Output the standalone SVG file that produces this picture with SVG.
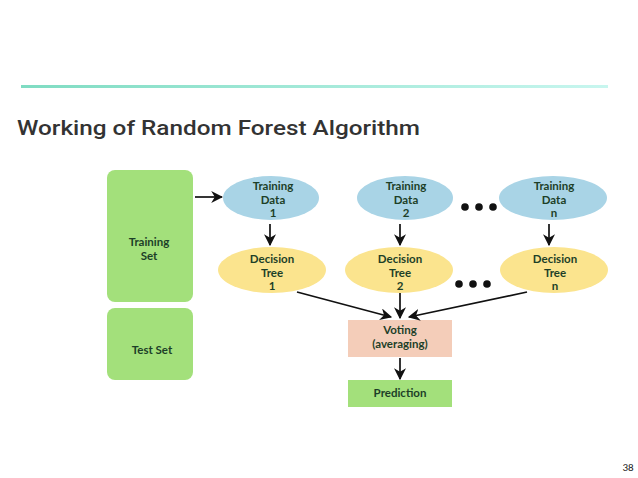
<svg xmlns="http://www.w3.org/2000/svg" width="638" height="478" viewBox="0 0 638 478">
<defs>
<linearGradient id="bar" x1="0" y1="0" x2="1" y2="0">
<stop offset="0" stop-color="#7fdcc2"/>
<stop offset="1" stop-color="#c8f6ef"/>
</linearGradient>
<marker id="ah" viewBox="0 0 10 10" refX="9" refY="5" markerWidth="12" markerHeight="12" markerUnits="userSpaceOnUse" orient="auto">
<path d="M0,0 L10,5 L0,10 L3,5 Z" fill="#111"/>
</marker>
<style>
.lbl{font-family:Lato,"Liberation Sans",sans-serif;font-size:11.5px;font-weight:bold;fill:#1d3f28;text-anchor:middle}
.green{fill:#a3e07b}
.blue{fill:#a9d4e6}
.yellow{fill:#fbe48e}
.conn{stroke:#111;stroke-width:1.7;fill:none;marker-end:url(#ah)}
.dot{fill:#111}
</style>
</defs>
<rect width="638" height="478" fill="#fff"/>
<rect x="21" y="85" width="587" height="3" fill="url(#bar)"/>
<text x="17" y="135" font-family="Roboto,'Liberation Sans',sans-serif" font-size="20" font-weight="500" fill="#333" textLength="403" lengthAdjust="spacingAndGlyphs">Working of Random Forest Algorithm</text>

<g id="training-set"><rect x="107" y="170" width="86" height="132" rx="8" class="green"/>
<text class="lbl" x="149" y="246">Training<tspan x="149" dy="14">Set</tspan></text></g>
<g id="test-set"><rect x="107" y="308" width="86" height="72" rx="8" class="green"/>
<text class="lbl" x="152" y="354">Test Set</text></g>

<g id="td1"><ellipse cx="271" cy="198" rx="48" ry="22" class="blue"/>
<text class="lbl" x="273" y="190">Training<tspan x="273" dy="13.5">Data</tspan><tspan x="273" dy="13.5">1</tspan></text></g>
<g id="td2"><ellipse cx="405" cy="198" rx="48" ry="22" class="blue"/>
<text class="lbl" x="406" y="190">Training<tspan x="406" dy="13.5">Data</tspan><tspan x="406" dy="13.5">2</tspan></text></g>
<g id="tdn"><ellipse cx="553" cy="198" rx="54" ry="22" class="blue"/>
<text class="lbl" x="554" y="190">Training<tspan x="554" dy="13.5">Data</tspan><tspan x="554" dy="13.5">n</tspan></text></g>

<g id="dt1"><ellipse cx="272" cy="270" rx="54" ry="23" class="yellow"/>
<text class="lbl" x="272" y="263">Decision<tspan x="272" dy="13.5">Tree</tspan><tspan x="272" dy="13.5">1</tspan></text></g>
<g id="dt2"><ellipse cx="399" cy="270" rx="54" ry="23" class="yellow"/>
<text class="lbl" x="400" y="263">Decision<tspan x="400" dy="13.5">Tree</tspan><tspan x="400" dy="13.5">2</tspan></text></g>
<g id="dtn"><ellipse cx="554" cy="270" rx="54" ry="23" class="yellow"/>
<text class="lbl" x="555" y="263">Decision<tspan x="555" dy="13.5">Tree</tspan><tspan x="555" dy="13.5">n</tspan></text></g>

<g id="voting"><rect x="348" y="320" width="104" height="37" fill="#f4cdb9"/>
<text class="lbl" x="400" y="334">Voting<tspan x="400" dy="14">(averaging)</tspan></text></g>
<g id="prediction"><rect x="348" y="380" width="104" height="27" fill="#a3e07b"/>
<text class="lbl" x="400" y="397">Prediction</text></g>

<g id="dots">
<circle class="dot" cx="465" cy="207" r="3.8"/><circle class="dot" cx="479" cy="207" r="3.8"/><circle class="dot" cx="493" cy="207" r="3.8"/>
<circle class="dot" cx="459" cy="284" r="3.8"/><circle class="dot" cx="473" cy="284" r="3.8"/><circle class="dot" cx="487" cy="284" r="3.8"/>
</g>

<g id="connectors">
<line class="conn" x1="195" y1="197" x2="222" y2="197"/>
<line class="conn" x1="270" y1="224" x2="270" y2="245"/>
<line class="conn" x1="400" y1="224" x2="400" y2="245"/>
<line class="conn" x1="549" y1="224" x2="549" y2="245"/>
<line class="conn" x1="297" y1="292" x2="391" y2="317"/>
<line class="conn" x1="400" y1="293" x2="400" y2="318"/>
<line class="conn" x1="527" y1="292" x2="409" y2="317"/>
<line class="conn" x1="400" y1="358" x2="400" y2="379"/>
</g>
<text x="628" y="471" font-family="Calibri,Carlito,'Liberation Sans',sans-serif" font-size="11" fill="#222" text-anchor="middle">38</text>
</svg>
